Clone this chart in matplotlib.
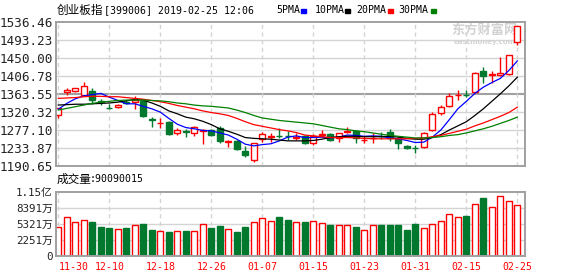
import matplotlib
matplotlib.use('Agg')
import matplotlib.pyplot as plt
from matplotlib.patches import Rectangle
import numpy as np

plt.rcParams['lines.scale_dashes'] = False

# ---- data ----
dates = ['11-30', '12-03', '12-04', '12-05', '12-06', '12-07', '12-10', '12-11', '12-12', '12-13',
         '12-14', '12-17', '12-18', '12-19', '12-20', '12-21', '12-24', '12-25', '12-26', '12-27',
         '12-28', '01-02', '01-03', '01-04', '01-07', '01-08', '01-09', '01-10', '01-11', '01-14',
         '01-15', '01-16', '01-17', '01-18', '01-21', '01-22', '01-23', '01-24', '01-25', '01-28',
         '01-29', '01-30', '01-31', '02-01', '02-11', '02-12', '02-13', '02-14', '02-15', '02-18',
         '02-19', '02-20', '02-21', '02-22', '02-25']
opens = [1313, 1368, 1371, 1360, 1371, 1346, 1330, 1333, 1345, 1344, 1346, 1303, 1293, 1297, 1269,
         1275, 1269, 1275, 1276, 1281, 1249, 1251, 1227, 1205, 1255, 1260, 1263, 1263, 1259, 1263,
         1245, 1266, 1268, 1257, 1273, 1275, 1253, 1257, 1263, 1272, 1255, 1239, 1235, 1236, 1277,
         1319, 1335, 1360, 1362, 1368, 1419, 1410, 1409, 1411, 1488]
highs = [1331, 1378, 1379, 1392, 1378, 1351, 1340, 1339, 1348, 1358, 1350, 1309, 1305, 1298, 1281,
         1279, 1287, 1279, 1279, 1286, 1254, 1252, 1239, 1247, 1273, 1271, 1283, 1275, 1269, 1265,
         1267, 1277, 1269, 1271, 1284, 1276, 1262, 1271, 1272, 1279, 1261, 1240, 1241, 1273, 1321,
         1337, 1365, 1373, 1373, 1416, 1429, 1419, 1453, 1458, 1527]
lows = [1305, 1360, 1368, 1358, 1340, 1337, 1328, 1331, 1339, 1327, 1309, 1285, 1283, 1266, 1266,
        1260, 1263, 1244, 1262, 1247, 1236, 1229, 1213, 1201, 1249, 1249, 1257, 1254, 1253, 1243,
        1241, 1261, 1250, 1249, 1269, 1247, 1247, 1247, 1255, 1251, 1231, 1232, 1223, 1233, 1275,
        1313, 1332, 1349, 1357, 1365, 1391, 1391, 1406, 1409, 1481]
closes = [1329, 1373, 1377, 1382, 1348, 1344, 1329, 1337, 1341, 1350, 1311, 1302, 1295, 1268, 1278,
          1273, 1284, 1276, 1266, 1250, 1251, 1231, 1216, 1245, 1268, 1262, 1262, 1262, 1261, 1247,
          1263, 1268, 1252, 1269, 1275, 1258, 1254, 1259, 1262, 1258, 1246, 1234, 1233, 1270, 1315,
          1332, 1359, 1362, 1360, 1413, 1406, 1412, 1413, 1457, 1526]
# volume in 万
volumes = [5114, 6896, 6005, 6415, 6059, 5168, 4990, 4811, 4990, 5465, 5702, 4633, 4395, 4277, 4395,
           4455, 4395, 5643, 4990, 5346, 4811, 4277, 5168, 6005, 6718, 6184, 6950, 6470, 6000, 6000,
           6237, 5821, 5524, 5524, 5524, 5168, 4633, 5465, 5524, 5524, 5524, 4633, 5643, 4930, 5643,
           6237, 7424, 6890, 7128, 9207, 10336, 8672, 10633, 9801, 9009]
ma5 = [1327, 1341, 1352, 1359, 1362, 1365, 1356, 1348, 1340, 1340, 1334, 1328, 1320, 1305, 1291,
       1283, 1280, 1276, 1275, 1270, 1265, 1255, 1243, 1239, 1242, 1244, 1251, 1260, 1263, 1259,
       1259, 1260, 1258, 1260, 1265, 1264, 1262, 1263, 1262, 1258, 1256, 1252, 1247, 1248, 1260,
       1277, 1302, 1328, 1346, 1365, 1380, 1391, 1401, 1420, 1443]
ma10 = [1337, 1338, 1339, 1339, 1340, 1341, 1342, 1344, 1347, 1351, 1349, 1342, 1334, 1323, 1316,
        1308, 1304, 1298, 1290, 1280, 1274, 1267, 1259, 1257, 1256, 1255, 1253, 1251, 1251, 1251,
        1252, 1255, 1259, 1261, 1262, 1262, 1261, 1261, 1261, 1262, 1260, 1257, 1255, 1255, 1259,
        1266, 1277, 1287, 1297, 1312, 1328, 1346, 1364, 1383, 1404]
ma20 = [1353, 1354, 1355, 1357, 1358, 1358, 1357, 1357, 1355, 1353, 1351, 1348, 1345, 1341, 1336,
        1332, 1328, 1323, 1319, 1316, 1312, 1305, 1297, 1290, 1286, 1282, 1278, 1275, 1271, 1265,
        1263, 1261, 1259, 1259, 1259, 1258, 1257, 1256, 1256, 1256, 1256, 1256, 1257, 1258, 1261,
        1264, 1269, 1274, 1279, 1287, 1294, 1302, 1310, 1319, 1332]
ma30 = [1325, 1329, 1333, 1337, 1341, 1344, 1346, 1348, 1349, 1349, 1349, 1348, 1347, 1345, 1342,
        1340, 1337, 1335, 1334, 1332, 1330, 1325, 1319, 1312, 1306, 1303, 1300, 1298, 1296, 1294,
        1292, 1288, 1284, 1280, 1278, 1275, 1273, 1270, 1267, 1264, 1262, 1260, 1258, 1258, 1259,
        1261, 1264, 1266, 1270, 1275, 1280, 1286, 1293, 1300, 1308]
price_ticks = [1190.65, 1233.87, 1277.10, 1320.32, 1363.55, 1406.78, 1450.00, 1493.23, 1536.46]
vol_tick_labels = ['0', '2251万', '5321万', '8391万', '1.15亿']
vol_max = 11461
ma_names = ['5PMA', '10PMA', '20PMA', '30PMA']
ma_colors = ['#0000ff', '#000000', '#ff0000', '#008000']
title_name = '创业板指'
title_rest = '[399006] 2019-02-25 12:06'
last_volume = '90090015'

RED = '#ff0000'
GREEN = '#00782d'
GRID = '#d4d4d4'
SPINE = '#a0a0a0'
MONO = 'DejaVu Sans Mono'
CJK = 'Noto Sans CJK SC'
W, H = 578, 276

fig = plt.figure(figsize=(W / 100, H / 100), dpi=100)
ax = fig.add_axes([56 / W, 110 / H, 469 / W, 144 / H])
axv = fig.add_axes([56 / W, 20 / H, 469 / W, 64.3 / H])

x = np.arange(len(dates))
o = np.array(opens, float)
h = np.array(highs, float)
l = np.array(lows, float)
c = np.array(closes, float)
up = c >= o
body_lo = np.minimum(o, c)
body_hi = np.maximum(o, c)
cols = np.where(up, RED, GREEN)

# grid
for t in price_ticks[1:-1]:
    if t == price_ticks[4]:
        ax.axhline(t, color='#a0a0a0', lw=1.5, zorder=1)
    else:
        ax.axhline(t, color=GRID, lw=1, zorder=1)
for a in (ax, axv):
    for i in range(0, len(dates), 6):
        a.axvline(i, color=GRID, lw=1, ls=(0, (3, 2.5)), zorder=1)
for f in (0.25, 0.5, 0.75):
    axv.axhline(vol_max * f, color=GRID, lw=1, zorder=1)

# candles
ax.vlines(x, l, body_lo, colors=cols, lw=1, zorder=2)
ax.vlines(x, body_hi, h, colors=cols, lw=1, zorder=2)
ax.bar(x, body_hi - body_lo, bottom=body_lo, width=0.68,
       color=np.where(up, 'white', GREEN), edgecolor=cols, lw=1, zorder=2)

# moving averages
for vals, col in zip([ma5, ma10, ma20, ma30], ma_colors):
    ax.plot(x, vals, color=col, lw=0.9, zorder=3)

# volume
axv.bar(x, volumes, width=0.7, color=np.where(up, 'white', GREEN),
        edgecolor=cols, lw=1, zorder=2)

xlim = (-0.27, len(dates) - 0.1)
ax.set_xlim(*xlim)
axv.set_xlim(*xlim)
ax.set_ylim(price_ticks[0], price_ticks[-1])
axv.set_ylim(0, vol_max)

ax.set_yticks(price_ticks)
ax.set_yticklabels([f'{t:.2f}' for t in price_ticks], family=MONO, fontsize=9.1, color='#222222')
ax.set_xticks([])
axv.set_yticks(np.linspace(0, vol_max, 5))
axv.set_yticklabels(vol_tick_labels, family=[MONO, CJK], fontsize=7.8, color='#222222')
axv.set_xticks(x[::6])
axv.set_xticklabels(dates[::6], family=MONO, fontsize=7.1, color=RED)
axv.get_xticklabels()[0].set_horizontalalignment('left')
for a in (ax, axv):
    a.tick_params(length=0, pad=2.2)
    for s in a.spines.values():
        s.set_color(SPINE)
        s.set_linewidth(1.4)
axv.tick_params(axis='x', pad=4)

# watermark
ax.text(0.842, 0.945, '东方财富网', transform=ax.transAxes, family=CJK, fontsize=9.5,
        fontweight='bold', color='#d2d2d2', va='center', ha='left', clip_on=True, zorder=0)
ax.text(0.848, 0.86, 'eastmoney.com', transform=ax.transAxes, family='DejaVu Sans',
        fontsize=5, fontweight='bold', color='#d2d2d2', va='center', ha='left',
        clip_on=True, zorder=0)

# header texts
ty = 1 - 10 / H
fig.text(57 / W, ty, title_name, family=CJK, fontsize=8.4, va='center', ha='left')
fig.text(104 / W, ty, title_rest, family=MONO, fontsize=7.1, va='center', ha='left')
for name, col, tx, sx in zip(ma_names, ma_colors, [276, 315, 356, 398], [301, 345, 388, 431]):
    fig.text(tx / W, ty, name, family=MONO, fontsize=7.1, va='center', ha='left')
    fig.patches.append(Rectangle((sx / W, 1 - 12.5 / H), 5 / W, 3.5 / H,
                                 transform=fig.transFigure, color=col, figure=fig))

vy = 1 - 179 / H
fig.text(57 / W, vy, '成交量', family=CJK, fontsize=8.4, va='center', ha='left')
fig.text(90 / W, vy, ':' + last_volume, family=MONO, fontsize=7.1, va='center', ha='left')

fig.savefig('out.png', dpi=100)
